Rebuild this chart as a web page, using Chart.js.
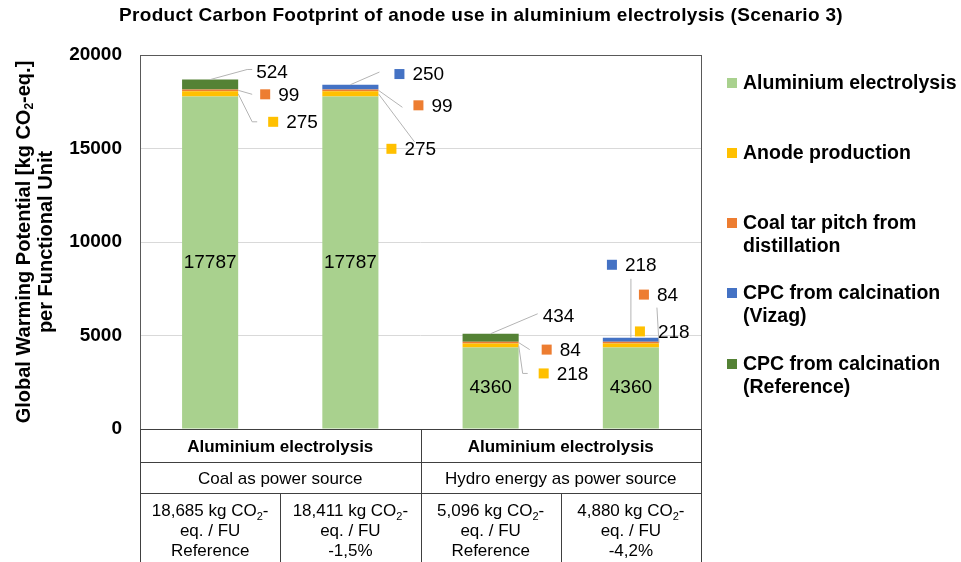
<!DOCTYPE html>
<html>
<head>
<meta charset="utf-8">
<script src="https://cdn.jsdelivr.net/npm/chart.js@4.4.1/dist/chart.umd.min.js"></script>
<style>
body{margin:0;background:#fff}
#wrap{width:961px;height:562px}
</style>
</head>
<body>
<div id="wrap"><canvas id="gwp" width="961" height="562"></canvas></div>
<script>

// bars, left to right
const bars = ["Coal / Reference", "Coal / Vizag", "Hydro / Reference", "Hydro / Vizag"]
const barNotes = ["Reference", "-1,5%", "Reference", "-4,2%"]
const groupTitles = ["Aluminium electrolysis", "Aluminium electrolysis"]
const powerSources = ["Coal as power source", "Hydro energy as power source"]

const seriesNames = [
"Aluminium electrolysis",
"Anode production",
["Coal tar pitch from", "distillation"],
["CPC from calcination", "(Vizag)"],
["CPC from calcination", "(Reference)"]
]

const aluminiumElectrolysis = [17787, 17787, 4360, 4360]
const anodeProduction = [275, 275, 218, 218]
const coalTarPitch = [99, 99, 84, 84]
const cpcVizag = [0, 250, 0, 218]
const cpcReference = [524, 0, 434, 0]

const yMin = 0
const yMax = 20000
const yStep = 5000

const colors = ["#A9D18E", "#FFC000", "#ED7D31", "#4472C4", "#548235"]
const FONT = "'Liberation Sans', Arial, sans-serif"

// callout placement (offsets from the bar's right edge / segment middle)
const callouts = [
{s:4, b:0, from:"top", path:[[9,-15],[14,-15]], at:[18,-13], key:false},
{s:2, b:0, from:"side", path:[[14,4]], at:[40,4]},
{s:1, b:0, from:"side", path:[[14,28],[19,28]], at:[48,28]},
{s:3, b:1, from:"top", path:[[1,-15]], at:[34,-13]},
{s:2, b:1, from:"side", path:[[24,17]], at:[53,15]},
{s:1, b:1, from:"side", path:[[36,48]], at:[26,55]},
{s:4, b:2, from:"top", path:[[19,-24]], at:[24,-22], key:false},
{s:2, b:2, from:"side", path:[[11,7]], at:[41,7]},
{s:1, b:2, from:"side", path:[[4,28],[9,28]], at:[38,28]},
{s:3, b:3, from:"top", path:[[-28,-61]], at:[-34,-75]},
{s:2, b:3, from:"side", path:[[-2,-35]], at:[-2,-48]},
{s:1, b:3, from:"none", path:[], at:[-1,-14], gap:18}
]

const seriesData = [aluminiumElectrolysis, anodeProduction, coalTarPitch, cpcVizag, cpcReference]


function richText(ctx, parts, cx, cy, size, weight){
  const big = weight + " " + size + "px " + FONT
  const small = weight + " " + Math.round(size*0.62) + "px " + FONT
  let total = 0
  parts.forEach(p=>{
    ctx.font = p.sub ? small : big
    p.w = ctx.measureText(p.t).width
    total += p.w
  })
  let x = cx - total/2
  ctx.textAlign = "left"
  ctx.textBaseline = "middle"
  parts.forEach(p=>{
    ctx.font = p.sub ? small : big
    ctx.fillText(p.t, x, p.sub ? cy + size*0.3 : cy)
    x += p.w
  })
}


const decorations = {
  id: "decorations",
  afterDraw(chart){
    const ctx = chart.ctx
    const area = chart.chartArea
    const xs = chart.scales.x
    ctx.save()

    // plot frame
    ctx.strokeStyle = "#595959"
    ctx.lineWidth = 1
    ctx.strokeRect(Math.round(area.left)+0.5, Math.round(area.top)+0.5, Math.round(area.right-area.left), Math.round(area.bottom-area.top))

    // values inside the big segments
    ctx.fillStyle = "#000"
    ctx.font = "19px " + FONT
    ctx.textAlign = "center"
    ctx.textBaseline = "middle"
    chart.getDatasetMeta(0).data.forEach((el, i)=>{
      ctx.fillText(String(aluminiumElectrolysis[i]), el.x, (el.y+el.base)/2)
    })

    // callouts with leader lines
    callouts.forEach(c=>{
      const value = seriesData[c.s][c.b]
      if(!value) return
      const el = chart.getDatasetMeta(c.s).data[c.b]
      const R = el.x + el.width/2
      const M = (el.y + el.base)/2
      if(c.from != "none"){
        ctx.strokeStyle = "#b4b4b4"
        ctx.lineWidth = 1
        ctx.beginPath()
        if(c.from == "top") ctx.moveTo(el.x, el.y)
        else ctx.moveTo(R, M)
        c.path.forEach(p=>ctx.lineTo(R+p[0], M+p[1]))
        ctx.stroke()
      }
      const tx = R + c.at[0]
      const ty = M + c.at[1]
      if(c.key !== false){
        const g = c.gap || 13
        ctx.fillStyle = colors[c.s]
        ctx.fillRect(tx - g - 5, ty - 5, 10, 10)
      }
      ctx.fillStyle = "#000"
      ctx.font = "19px " + FONT
      ctx.textAlign = "left"
      ctx.textBaseline = "middle"
      ctx.fillText(String(value), tx, ty + 1)
    })

    // legend
    const legendY = [83, 153, 223, 293, 364]
    seriesNames.forEach((name, i)=>{
      const lines = Array.isArray(name) ? name : [name]
      ctx.fillStyle = colors[i]
      ctx.fillRect(727, legendY[i]-5, 10, 10)
      ctx.fillStyle = "#000"
      ctx.font = "bold 19.5px " + FONT
      ctx.textAlign = "left"
      ctx.textBaseline = "middle"
      lines.forEach((l, k)=>ctx.fillText(l, 743, legendY[i] + k*23 + 1))
    })

    // table under the axis
    const half = (xs.getPixelForValue(1) - xs.getPixelForValue(0))/2
    const left = Math.round(area.left) + 0.5
    const right = Math.round(area.right) + 0.5
    const top = Math.round(area.bottom) + 0.5
    const row1 = top + 33
    const row2 = top + 64
    const bottom = chart.height
    const mid = Math.round((xs.getPixelForValue(1)+xs.getPixelForValue(2))/2) + 0.5
    ctx.strokeStyle = "#404040"
    ctx.lineWidth = 1
    ctx.beginPath()
    ctx.moveTo(left, top); ctx.lineTo(right, top)
    ctx.moveTo(left, row1); ctx.lineTo(right, row1)
    ctx.moveTo(left, row2); ctx.lineTo(right, row2)
    ctx.moveTo(left, top); ctx.lineTo(left, bottom)
    ctx.moveTo(right, top); ctx.lineTo(right, bottom)
    ctx.moveTo(mid, top); ctx.lineTo(mid, bottom)
    ;[0, 2].forEach(i=>{
      const sx = Math.round(xs.getPixelForValue(i) + half) + 0.5
      ctx.moveTo(sx, row2); ctx.lineTo(sx, bottom)
    })
    ctx.stroke()

    ctx.fillStyle = "#000"
    ctx.textAlign = "center"
    ctx.textBaseline = "middle"
    groupTitles.forEach((t, g)=>{
      const gx = (xs.getPixelForValue(g*2) + xs.getPixelForValue(g*2+1))/2
      ctx.font = "bold 17px " + FONT
      ctx.fillText(t, gx, (top+row1)/2 + 1)
      ctx.font = "17px " + FONT
      ctx.fillText(powerSources[g], gx, (row1+row2)/2 + 1)
    })
    bars.forEach((b, i)=>{
      const bx = xs.getPixelForValue(i)
      let total = 0
      seriesData.forEach(d=>total += d[i])
      richText(ctx, [{t: total.toLocaleString("en-US") + " kg CO"}, {t:"2", sub:true}, {t:"-"}], bx, row2 + 18, 17, "normal")
      ctx.font = "17px " + FONT
      ctx.textAlign = "center"
      ctx.fillText("eq. / FU", bx, row2 + 38)
      ctx.fillText(barNotes[i], bx, row2 + 58)
    })

    // chart title
    ctx.fillStyle = "#000"
    ctx.font = "bold 19px " + FONT
    ctx.letterSpacing = "0.3px"
    ctx.textAlign = "center"
    ctx.textBaseline = "middle"
    ctx.fillText("Product Carbon Footprint of anode use in aluminium electrolysis (Scenario 3)", 481, 16)
    ctx.letterSpacing = "0px"

    // y axis title
    ctx.save()
    ctx.translate(24, (area.top+area.bottom)/2)
    ctx.rotate(-Math.PI/2)
    richText(ctx, [{t:"Global Warming Potential [kg CO"}, {t:"2", sub:true}, {t:"-eq.]"}], 0, 0, 20, "bold")
    ctx.font = "bold 20px " + FONT
    ctx.textAlign = "center"
    ctx.fillText("per Functional Unit", 0, 22)
    ctx.restore()

    ctx.restore()
  }
}


new Chart(document.getElementById("gwp"), {
  type: "bar",
  data: {
    labels: bars,
    datasets: seriesData.map((d, i)=>({
      label: Array.isArray(seriesNames[i]) ? seriesNames[i].join(" ") : seriesNames[i],
      data: d,
      backgroundColor: colors[i],
      borderWidth: 0,
      barPercentage: 0.4,
      categoryPercentage: 1
    }))
  },
  options: {
    responsive: false,
    animation: false,
    devicePixelRatio: 1,
    layout: {padding: {top: 55, right: 260, bottom: 133, left: 0}},
    plugins: {
      legend: {display: false},
      tooltip: {enabled: false},
      title: {display: false}
    },
    scales: {
      x: {stacked: true, display: false},
      y: {
        stacked: true,
        min: yMin,
        max: yMax,
        ticks: {stepSize: yStep, color: "#000", padding: 18, font: {family: FONT, size: 19, weight: "bold"}, callback: v=>String(v)},
        grid: {color: "#D9D9D9", drawTicks: false},
        border: {display: false},
        afterFit: s=>{ s.width = 140 }
      }
    }
  },
  plugins: [decorations]
})

</script>
</body>
</html>
